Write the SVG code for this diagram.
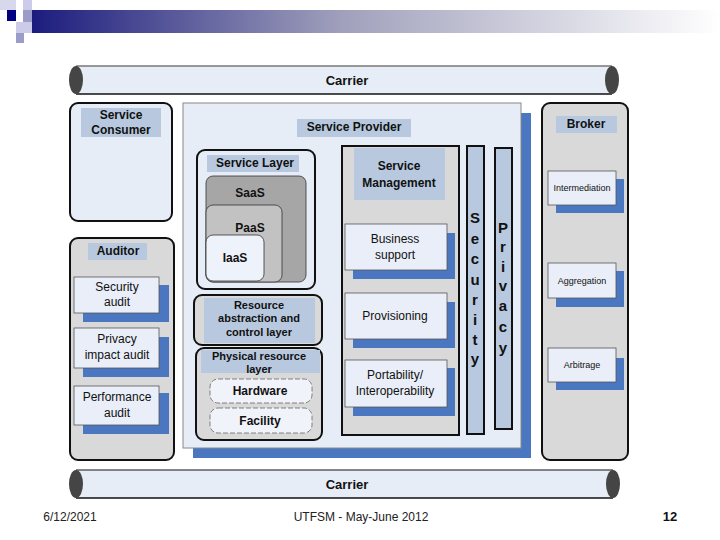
<svg xmlns="http://www.w3.org/2000/svg" width="720" height="540" viewBox="0 0 720 540">
<defs>
<linearGradient id="bar" x1="0" y1="0" x2="1" y2="0">
<stop offset="0" stop-color="#1c1c7e"/>
<stop offset="0.45" stop-color="#a0a0bc"/>
<stop offset="1" stop-color="#ffffff"/>
</linearGradient>
<style>
text{font-family:"Liberation Sans",Arial,sans-serif;fill:#111;text-anchor:middle;dominant-baseline:central}
.b{font-weight:bold}
.lt{fill:#e7edf7}
.lab{fill:#b8c9df}
.sh{fill:#4a77c0}
.gr{fill:#d9d9d9}
.box{fill:#e9eef8;stroke:#555;stroke-width:0.8}
.thick{stroke:#111;stroke-width:2}
.foot{font-size:12px;fill:#222}
</style>
</defs>
<g id="deco">
<rect x="0" y="0" width="16" height="10" fill="#d8d8ec"/>
<rect x="23" y="0" width="9" height="10" fill="#ccccea"/>
<rect x="7" y="10" width="9" height="11" fill="#000080"/>
<rect x="23" y="10" width="17" height="12" fill="#9c9cc8"/>
<rect x="16" y="22" width="16" height="11" fill="#ccccea"/>
<rect x="16" y="33" width="8" height="10" fill="#9c9cc8"/>
<rect x="32" y="10" width="688" height="23" fill="url(#bar)"/>
</g>
<g id="carrier-top">
<rect x="76" y="66" width="536" height="28" class="lt"/>
<line x1="76" y1="66" x2="612" y2="66" stroke="#777" stroke-width="1.5"/>
<line x1="76" y1="94" x2="612" y2="94" stroke="#111" stroke-width="1.5"/>
<ellipse cx="76" cy="80" rx="7" ry="14" fill="#454545"/>
<ellipse cx="612" cy="80" rx="7" ry="14" fill="#454545"/>
<text x="347" y="80" class="b" font-size="13">Carrier</text>
</g>
<g id="carrier-bottom">
<rect x="76" y="470" width="537" height="28" class="lt"/>
<line x1="76" y1="470" x2="613" y2="470" stroke="#111" stroke-width="1.2"/>
<line x1="76" y1="498" x2="613" y2="498" stroke="#111" stroke-width="1.5"/>
<ellipse cx="76" cy="484" rx="7" ry="14" fill="#454545"/>
<ellipse cx="613" cy="484" rx="7" ry="14" fill="#454545"/>
<text x="347" y="484" class="b" font-size="13">Carrier</text>
</g>
<g id="service-consumer">
<rect x="70" y="103" width="102" height="118" rx="8" class="lt thick"/>
<rect x="81" y="108" width="80" height="29" class="lab"/>
<text x="121" y="115" class="b" font-size="12">Service</text>
<text x="121" y="130" class="b" font-size="12">Consumer</text>
</g>
<g id="auditor">
<rect x="70" y="238" width="104" height="222" rx="8" class="gr thick"/>
<rect x="88" y="243" width="59" height="17" class="lab"/>
<text x="118" y="251" class="b" font-size="12">Auditor</text>
<rect x="83" y="285" width="86" height="37" class="sh"/>
<rect x="74" y="277" width="85" height="36" class="box"/>
<text x="117" y="287" font-size="12">Security</text>
<text x="117" y="302" font-size="12">audit</text>
<rect x="83" y="337" width="86" height="40" class="sh"/>
<rect x="74" y="328" width="85" height="40" class="box"/>
<text x="117" y="339" font-size="12">Privacy</text>
<text x="117" y="355" font-size="12">impact audit</text>
<rect x="83" y="393" width="86" height="41" class="sh"/>
<rect x="74" y="386" width="85" height="39" class="box"/>
<text x="117" y="397" font-size="12">Performance</text>
<text x="117" y="413" font-size="12">audit</text>
</g>
<g id="service-provider">
<rect x="193" y="113" width="338" height="345" class="sh"/>
<rect x="183" y="103" width="338" height="345" class="lt" stroke="#888" stroke-width="1"/>
<rect x="297" y="119" width="114" height="18" class="lab"/>
<text x="354" y="127" class="b" font-size="12">Service Provider</text>
</g>
<g id="service-layer">
<rect x="197" y="150" width="118" height="139" rx="8" class="lt thick"/>
<rect x="207" y="155" width="92" height="17" class="lab"/>
<text x="255" y="163" class="b" font-size="12">Service Layer</text>
<rect x="206" y="176" width="100" height="106" rx="7" fill="#a6a6a6" stroke="#333" stroke-width="0.8"/>
<text x="250" y="193" class="b" font-size="12">SaaS</text>
<rect x="206" y="205" width="76" height="77" rx="7" fill="#c2c2c2" stroke="#333" stroke-width="0.8"/>
<text x="250" y="228" class="b" font-size="12">PaaS</text>
<rect x="206" y="235" width="58" height="46" rx="7" fill="#eef2fa" stroke="#333" stroke-width="0.8"/>
<text x="235" y="258" class="b" font-size="12">IaaS</text>
</g>
<g id="resource-abstraction">
<rect x="194" y="295" width="128" height="50" rx="8" class="gr thick"/>
<rect x="204" y="298" width="111" height="45" class="lab"/>
<text x="259" y="305" class="b" font-size="11">Resource</text>
<text x="259" y="318" class="b" font-size="11">abstraction and</text>
<text x="259" y="332" class="b" font-size="11">control layer</text>
</g>
<g id="physical-resource">
<rect x="196" y="348" width="126" height="92" rx="8" class="gr thick"/>
<rect x="201" y="350" width="119" height="23" class="lab"/>
<text x="259" y="356" class="b" font-size="11">Physical resource</text>
<text x="259" y="369" class="b" font-size="11">layer</text>
<rect x="210" y="379" width="102" height="24" rx="8" fill="#f0f3f9" stroke="#666" stroke-width="0.8" stroke-dasharray="5,2"/>
<text x="260" y="391" class="b" font-size="12">Hardware</text>
<rect x="210" y="408" width="102" height="25" rx="8" fill="#f0f3f9" stroke="#666" stroke-width="0.8" stroke-dasharray="5,2"/>
<text x="260" y="421" class="b" font-size="12">Facility</text>
</g>
<g id="service-management">
<rect x="342" y="146" width="117" height="289" class="gr thick"/>
<rect x="354" y="148" width="91" height="52" class="lab"/>
<text x="399" y="166" class="b" font-size="12">Service</text>
<text x="399" y="183" class="b" font-size="12">Management</text>
<rect x="353" y="233" width="102" height="46" class="sh"/>
<rect x="345" y="224" width="102" height="46" class="box"/>
<text x="395" y="239" font-size="12">Business</text>
<text x="395" y="255" font-size="12">support</text>
<rect x="353" y="302" width="102" height="46" class="sh"/>
<rect x="345" y="293" width="102" height="46" class="box"/>
<text x="395" y="316" font-size="12">Provisioning</text>
<rect x="353" y="368" width="102" height="48" class="sh"/>
<rect x="345" y="360" width="102" height="47" class="box"/>
<text x="395" y="375" font-size="12">Portability/</text>
<text x="395" y="391" font-size="12">Interoperability</text>
</g>
<g id="security">
<rect x="467" y="146" width="17" height="288" class="lab thick"/>
<text x="475" y="217" class="b" font-size="15">S</text>
<text x="475" y="238" class="b" font-size="15">e</text>
<text x="475" y="258" class="b" font-size="15">c</text>
<text x="475" y="279" class="b" font-size="15">u</text>
<text x="475" y="299" class="b" font-size="15">r</text>
<text x="475" y="319" class="b" font-size="15">i</text>
<text x="475" y="339" class="b" font-size="15">t</text>
<text x="475" y="358" class="b" font-size="15">y</text>
</g>
<g id="privacy">
<rect x="495" y="148" width="17" height="281" class="lab thick"/>
<text x="503" y="227" class="b" font-size="15">P</text>
<text x="503" y="246" class="b" font-size="15">r</text>
<text x="503" y="266" class="b" font-size="15">i</text>
<text x="503" y="285" class="b" font-size="15">v</text>
<text x="503" y="305" class="b" font-size="15">a</text>
<text x="503" y="326" class="b" font-size="15">c</text>
<text x="503" y="347" class="b" font-size="15">y</text>
</g>
<g id="broker">
<rect x="542" y="103" width="86" height="357" rx="8" class="gr thick"/>
<rect x="556" y="116" width="61" height="17" class="lab"/>
<text x="586" y="124" class="b" font-size="12">Broker</text>
<rect x="556" y="179" width="68" height="34" class="sh"/>
<rect x="548" y="171" width="68" height="34" class="box"/>
<text x="582" y="188" font-size="9">Intermediation</text>
<rect x="556" y="271" width="68" height="36" class="sh"/>
<rect x="548" y="263" width="68" height="35" class="box"/>
<text x="582" y="281" font-size="9">Aggregation</text>
<rect x="556" y="358" width="68" height="32" class="sh"/>
<rect x="548" y="348" width="68" height="34" class="box"/>
<text x="582" y="365" font-size="9">Arbitrage</text>
</g>
<g id="footer">
<text x="70" y="517" class="foot" font-family="'Liberation Sans Narrow','Liberation Sans',sans-serif">6/12/2021</text>
<text x="361" y="517" class="foot" font-family="'Liberation Sans Narrow','Liberation Sans',sans-serif">UTFSM - May-June 2012</text>
<text x="670" y="516" class="b" font-size="13">12</text>
</g>
</svg>
